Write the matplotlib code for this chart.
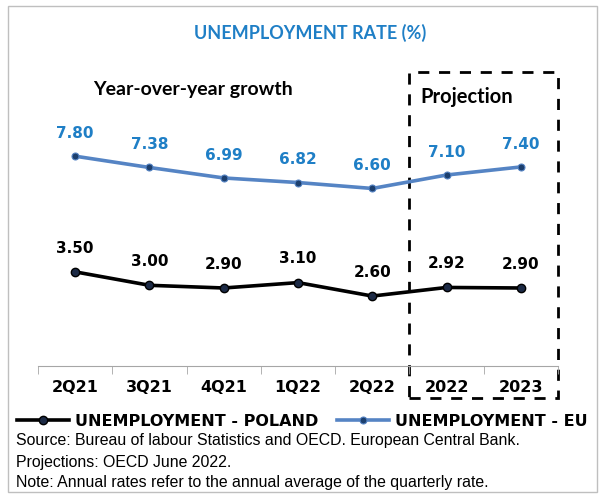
import matplotlib
matplotlib.use("Agg")
import matplotlib.pyplot as plt
import matplotlib.transforms as mtransforms
from matplotlib.patches import Rectangle
import numpy as np

periods = ["2Q21", "3Q21", "4Q21", "1Q22", "2Q22", "2022", "2023"]
poland = [3.50, 3.00, 2.90, 3.10, 2.60, 2.92, 2.90]
eu = [7.80, 7.38, 6.99, 6.82, 6.60, 7.10, 7.40]
n_projected = 2

blue_line = "#5584c4"
blue_text = "#1f7fc6"

W, H = 605, 500
fig = plt.figure(figsize=(W / 100, H / 100), dpi=100)
ax = fig.add_axes([38 / W, 1 - 366 / H, 520 / W, (366 - 97) / H])

x = np.arange(len(periods))
ax.plot(x, poland, color="black", lw=2.6, marker="o", ms=6,
        mfc="#1c2a45", mec="black", mew=1, label="UNEMPLOYMENT - POLAND")
ax.plot(x, eu, color=blue_line, lw=2.6, marker="o", ms=5,
        mfc="#1c3f6e", mec=blue_line, mew=0.8, label="UNEMPLOYMENT - EU")

for xi, v in zip(x, poland):
    ax.annotate(f"{v:.2f}", (xi, v), xytext=(0, 17), textcoords="offset points",
                ha="center", va="center", fontsize=11, fontweight="bold",
                color="black", family="DejaVu Sans")
for xi, v in zip(x, eu):
    ax.annotate(f"{v:.2f}", (xi, v), xytext=(0, 16.5), textcoords="offset points",
                ha="center", va="center", fontsize=11, fontweight="bold",
                color=blue_text, family="DejaVu Sans")

ax.set_xlim(-0.5, len(periods) - 0.5)
ax.set_ylim(0, 10)
for s in ["top", "right", "left"]:
    ax.spines[s].set_visible(False)
ax.spines["bottom"].set_color("#a6a6a6")
ax.set_yticks([])
ax.set_xticks(x)
ax.set_xticklabels(periods, fontsize=11.5, fontweight="bold", family="DejaVu Sans")
ax.tick_params(axis="x", which="major", length=0, pad=10)
ax.set_xticks(np.arange(-0.5, len(periods)), minor=True)
ax.tick_params(axis="x", which="minor", length=6, color="#a6a6a6")

# projection box
trans = mtransforms.blended_transform_factory(ax.transData, fig.transFigure)
x0 = len(periods) - n_projected - 0.5
box = Rectangle((x0, 1 - 398 / H), n_projected, (398 - 72) / H, transform=trans,
                fill=False, ec="black", lw=2, ls=(0, (4, 3.5)), clip_on=False)
ax.add_patch(box)
fig.text(420 / W, 1 - 97 / H, "Projection", fontsize=14.5, family="Lato",
         fontweight="bold", va="center", ha="left")

fig.text(0.512, 1 - 33 / H, "UNEMPLOYMENT RATE (%)", fontsize=13, family="Lato",
         fontweight="bold", color=blue_text, ha="center", va="center")
fig.text(93 / W, 1 - 90 / H, "Year-over-year growth", fontsize=14, family="Lato",
         fontweight="bold", ha="left", va="center")

leg = fig.legend(loc="center", bbox_to_anchor=(0.5, 1 - 421 / H), ncol=2,
                 frameon=False, handlelength=3.2, columnspacing=1.2,
                 handletextpad=0.4,
                 prop={"family": "DejaVu Sans", "weight": "bold", "size": 11.5})

notes = ["Source: Bureau of labour Statistics and OECD. European Central Bank.",
         "Projections: OECD June 2022.",
         "Note: Annual rates refer to the annual average of the quarterly rate."]
for i, line in enumerate(notes):
    fig.text(16 / W, 1 - (441 + 21 * i) / H, line, fontsize=11.4,
             family="Liberation Sans", ha="left", va="center")

fig.add_artist(Rectangle((8 / W, 8 / H), (597 - 8) / W, (494 - 8) / H,
                         transform=fig.transFigure, fill=False,
                         ec="#bfbfbf", lw=1))

fig.savefig("out.png", dpi=100)
